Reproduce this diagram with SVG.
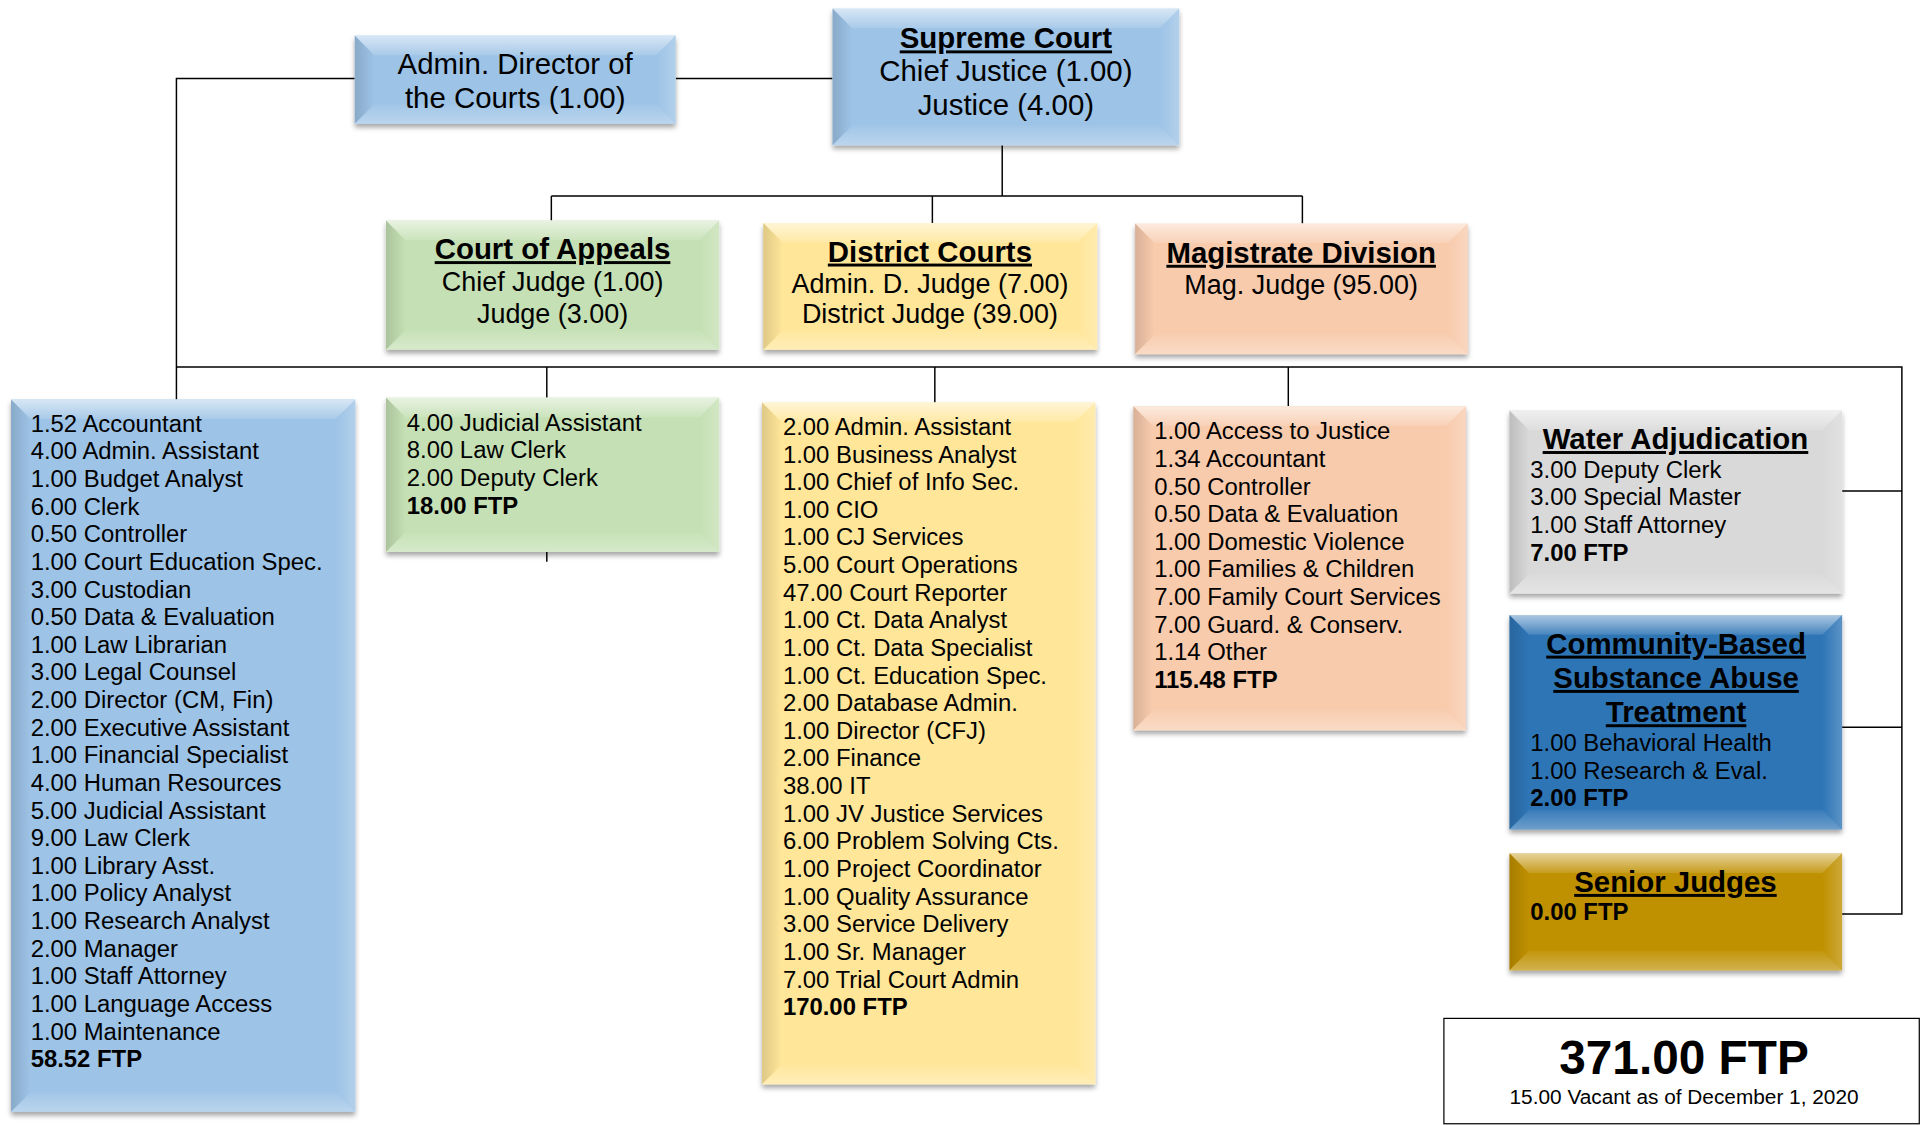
<svg xmlns="http://www.w3.org/2000/svg" width="1921" height="1125" viewBox="0 0 1921 1125">
<defs>
<linearGradient id="gTop" x1="0" y1="0" x2="0" y2="1"><stop offset="0" stop-color="#fff" stop-opacity="0.6"/><stop offset="1" stop-color="#fff" stop-opacity="0.12"/></linearGradient>
<linearGradient id="gBot" x1="0" y1="0" x2="0" y2="1"><stop offset="0" stop-color="#fff" stop-opacity="0.05"/><stop offset="1" stop-color="#fff" stop-opacity="0.3"/></linearGradient>
<linearGradient id="gLeft" x1="0" y1="0" x2="1" y2="0"><stop offset="0" stop-color="#000" stop-opacity="0.13"/><stop offset="1" stop-color="#000" stop-opacity="0"/></linearGradient>
<linearGradient id="gRight" x1="0" y1="0" x2="1" y2="0"><stop offset="0" stop-color="#fff" stop-opacity="0"/><stop offset="1" stop-color="#fff" stop-opacity="0.22"/></linearGradient>
<filter id="sh" x="-10%" y="-10%" width="120%" height="130%"><feDropShadow dx="0" dy="3" stdDeviation="2" flood-color="#000" flood-opacity="0.35"/></filter>
</defs>
<style>
.t{font-family:"Liberation Sans",Arial,sans-serif;fill:#000}
.h{font-size:24px;font-weight:bold;text-decoration:underline;text-anchor:middle}
.s24{font-size:24px;text-anchor:middle}
.s22{font-size:22px;text-anchor:middle}
.l{font-size:19.5px}
.b{font-weight:bold}
.bt{fill:url(#gTop)}.bb{fill:url(#gBot)}.bl{fill:url(#gLeft)}.br{fill:url(#gRight)}
.conn{fill:none;stroke:#000;stroke-width:1.2}
.blue{fill:#9DC3E6}.green{fill:#C5E0B4}.yellow{fill:#FFE699}.peach{fill:#F8CBAD}.gray{fill:#D9D9D9}.dblue{fill:#2E75B6}.gold{fill:#BF9000}
</style>
<g transform="scale(1.2252)">
<g id="connectors">
<path class="conn" d="M289.5,64 H144 V326"/>
<path class="conn" d="M551.5,64 H679.5"/>
<path class="conn" d="M818,118.5 V160 M450,160 H1063 M450,160 V180 M761,160 V182 M1063,160 V182.5"/>
<path class="conn" d="M144,299.5 H1552.3 V746 H1503.5 M1552.3,400.8 H1503.5 M1552.3,593.5 H1503.5"/>
<path class="conn" d="M446.3,299.5 V458.5 M763,299.5 V328.5 M1051.5,299.5 V331.5"/>
</g>

<g id="admin-director">
<rect class="blue" x="289.5" y="29" width="262" height="72" filter="url(#sh)"/>
<path class="bt" d="M289.5,29 H551.5 l-16,16 H305.5 Z"/>
<path class="bb" d="M289.5,101 H551.5 l-16,-16 H305.5 Z"/>
<path class="bl" d="M289.5,29 l16,16 V85 l-16,16 Z"/>
<path class="br" d="M551.5,29 l-16,16 V85 l16,16 Z"/>
<text class="t s24" x="420.5" y="60.5">Admin. Director of</text>
<text class="t s24" x="420.5" y="88">the Courts (1.00)</text>
</g>

<g id="supreme-court">
<rect class="blue" x="679.5" y="7" width="283" height="111.5" filter="url(#sh)"/>
<path class="bt" d="M679.5,7 H962.5 l-16,16 H695.5 Z"/>
<path class="bb" d="M679.5,118.5 H962.5 l-16,-16 H695.5 Z"/>
<path class="bl" d="M679.5,7 l16,16 V102.5 l-16,16 Z"/>
<path class="br" d="M962.5,7 l-16,16 V102.5 l16,16 Z"/>
<text class="t h" x="821" y="39.5">Supreme Court</text>
<text class="t s24" x="821" y="66.5">Chief Justice (1.00)</text>
<text class="t s24" x="821" y="94">Justice (4.00)</text>
</g>

<g id="court-of-appeals">
<rect class="green" x="315" y="180" width="272" height="105.5" filter="url(#sh)"/>
<path class="bt" d="M315,180 H587 l-16,16 H331 Z"/>
<path class="bb" d="M315,285.5 H587 l-16,-16 H331 Z"/>
<path class="bl" d="M315,180 l16,16 V269.5 l-16,16 Z"/>
<path class="br" d="M587,180 l-16,16 V269.5 l16,16 Z"/>
<text class="t h" x="451" y="211.5">Court of Appeals</text>
<text class="t s22" x="451" y="237.5">Chief Judge (1.00)</text>
<text class="t s22" x="451" y="263.5">Judge (3.00)</text>
</g>

<g id="district-courts">
<rect class="yellow" x="623" y="182" width="272.5" height="103.5" filter="url(#sh)"/>
<path class="bt" d="M623,182 H895.5 l-16,16 H639 Z"/>
<path class="bb" d="M623,285.5 H895.5 l-16,-16 H639 Z"/>
<path class="bl" d="M623,182 l16,16 V269.5 l-16,16 Z"/>
<path class="br" d="M895.5,182 l-16,16 V269.5 l16,16 Z"/>
<text class="t h" x="759" y="213.5">District Courts</text>
<text class="t s22" x="759" y="239.5">Admin. D. Judge (7.00)</text>
<text class="t s22" x="759" y="263.5">District Judge (39.00)</text>
</g>

<g id="magistrate-division">
<rect class="peach" x="926.5" y="182.5" width="271.5" height="106.5" filter="url(#sh)"/>
<path class="bt" d="M926.5,182.5 H1198 l-16,16 H942.5 Z"/>
<path class="bb" d="M926.5,289 H1198 l-16,-16 H942.5 Z"/>
<path class="bl" d="M926.5,182.5 l16,16 V273 l-16,16 Z"/>
<path class="br" d="M1198,182.5 l-16,16 V273 l16,16 Z"/>
<text class="t h" x="1062" y="214.5">Magistrate Division</text>
<text class="t s22" x="1062" y="240">Mag. Judge (95.00)</text>
</g>

<g id="admin-staff">
<rect class="blue" x="9" y="326" width="281" height="581.5" filter="url(#sh)"/>
<path class="bt" d="M9,326 H290 l-16,16 H25 Z"/>
<path class="bb" d="M9,907.5 H290 l-16,-16 H25 Z"/>
<path class="bl" d="M9,326 l16,16 V891.5 l-16,16 Z"/>
<path class="br" d="M290,326 l-16,16 V891.5 l16,16 Z"/>
<text class="t l" x="25" y="352.4"><tspan x="25">1.52 Accountant</tspan><tspan x="25" dy="22.55">4.00 Admin. Assistant</tspan><tspan x="25" dy="22.55">1.00 Budget Analyst</tspan><tspan x="25" dy="22.55">6.00 Clerk</tspan><tspan x="25" dy="22.55">0.50 Controller</tspan><tspan x="25" dy="22.55">1.00 Court Education Spec.</tspan><tspan x="25" dy="22.55">3.00 Custodian</tspan><tspan x="25" dy="22.55">0.50 Data &amp; Evaluation</tspan><tspan x="25" dy="22.55">1.00 Law Librarian</tspan><tspan x="25" dy="22.55">3.00 Legal Counsel</tspan><tspan x="25" dy="22.55">2.00 Director (CM, Fin)</tspan><tspan x="25" dy="22.55">2.00 Executive Assistant</tspan><tspan x="25" dy="22.55">1.00 Financial Specialist</tspan><tspan x="25" dy="22.55">4.00 Human Resources</tspan><tspan x="25" dy="22.55">5.00 Judicial Assistant</tspan><tspan x="25" dy="22.55">9.00 Law Clerk</tspan><tspan x="25" dy="22.55">1.00 Library Asst.</tspan><tspan x="25" dy="22.55">1.00 Policy Analyst</tspan><tspan x="25" dy="22.55">1.00 Research Analyst</tspan><tspan x="25" dy="22.55">2.00 Manager</tspan><tspan x="25" dy="22.55">1.00 Staff Attorney</tspan><tspan x="25" dy="22.55">1.00 Language Access</tspan><tspan x="25" dy="22.55">1.00 Maintenance</tspan><tspan x="25" dy="22.55" class="b">58.52 FTP</tspan></text>
</g>

<g id="appeals-staff">
<rect class="green" x="315" y="324.5" width="272" height="126" filter="url(#sh)"/>
<path class="bt" d="M315,324.5 H587 l-16,16 H331 Z"/>
<path class="bb" d="M315,450.5 H587 l-16,-16 H331 Z"/>
<path class="bl" d="M315,324.5 l16,16 V434.5 l-16,16 Z"/>
<path class="br" d="M587,324.5 l-16,16 V434.5 l16,16 Z"/>
<text class="t l" x="332" y="351.5"><tspan x="332">4.00 Judicial Assistant</tspan><tspan x="332" dy="22.55">8.00 Law Clerk</tspan><tspan x="332" dy="22.55">2.00 Deputy Clerk</tspan><tspan x="332" dy="22.55" class="b">18.00 FTP</tspan></text>
</g>

<g id="district-staff">
<rect class="yellow" x="622" y="328.5" width="272" height="556.5" filter="url(#sh)"/>
<path class="bt" d="M622,328.5 H894 l-16,16 H638 Z"/>
<path class="bb" d="M622,885 H894 l-16,-16 H638 Z"/>
<path class="bl" d="M622,328.5 l16,16 V869 l-16,16 Z"/>
<path class="br" d="M894,328.5 l-16,16 V869 l16,16 Z"/>
<text class="t l" x="639" y="355"><tspan x="639">2.00 Admin. Assistant</tspan><tspan x="639" dy="22.55">1.00 Business Analyst</tspan><tspan x="639" dy="22.55">1.00 Chief of Info Sec.</tspan><tspan x="639" dy="22.55">1.00 CIO</tspan><tspan x="639" dy="22.55">1.00 CJ Services</tspan><tspan x="639" dy="22.55">5.00 Court Operations</tspan><tspan x="639" dy="22.55">47.00 Court Reporter</tspan><tspan x="639" dy="22.55">1.00 Ct. Data Analyst</tspan><tspan x="639" dy="22.55">1.00 Ct. Data Specialist</tspan><tspan x="639" dy="22.55">1.00 Ct. Education Spec.</tspan><tspan x="639" dy="22.55">2.00 Database Admin.</tspan><tspan x="639" dy="22.55">1.00 Director (CFJ)</tspan><tspan x="639" dy="22.55">2.00 Finance</tspan><tspan x="639" dy="22.55">38.00 IT</tspan><tspan x="639" dy="22.55">1.00 JV Justice Services</tspan><tspan x="639" dy="22.55">6.00 Problem Solving Cts.</tspan><tspan x="639" dy="22.55">1.00 Project Coordinator</tspan><tspan x="639" dy="22.55">1.00 Quality Assurance</tspan><tspan x="639" dy="22.55">3.00 Service Delivery</tspan><tspan x="639" dy="22.55">1.00 Sr. Manager</tspan><tspan x="639" dy="22.55">7.00 Trial Court Admin</tspan><tspan x="639" dy="22.55" class="b">170.00 FTP</tspan></text>
</g>

<g id="magistrate-staff">
<rect class="peach" x="925" y="331.5" width="271.5" height="264.5" filter="url(#sh)"/>
<path class="bt" d="M925,331.5 H1196.5 l-16,16 H941 Z"/>
<path class="bb" d="M925,596 H1196.5 l-16,-16 H941 Z"/>
<path class="bl" d="M925,331.5 l16,16 V580 l-16,16 Z"/>
<path class="br" d="M1196.5,331.5 l-16,16 V580 l16,16 Z"/>
<text class="t l" x="942" y="358.6"><tspan x="942">1.00 Access to Justice</tspan><tspan x="942" dy="22.55">1.34 Accountant</tspan><tspan x="942" dy="22.55">0.50 Controller</tspan><tspan x="942" dy="22.55">0.50 Data &amp; Evaluation</tspan><tspan x="942" dy="22.55">1.00 Domestic Violence</tspan><tspan x="942" dy="22.55">1.00 Families &amp; Children</tspan><tspan x="942" dy="22.55">7.00 Family Court Services</tspan><tspan x="942" dy="22.55">7.00 Guard. &amp; Conserv.</tspan><tspan x="942" dy="22.55">1.14 Other</tspan><tspan x="942" dy="22.55" class="b">115.48 FTP</tspan></text>
</g>

<g id="water-adjudication">
<rect class="gray" x="1232" y="335" width="271.5" height="149.5" filter="url(#sh)"/>
<path class="bt" d="M1232,335 H1503.5 l-16,16 H1248 Z"/>
<path class="bb" d="M1232,484.5 H1503.5 l-16,-16 H1248 Z"/>
<path class="bl" d="M1232,335 l16,16 V468.5 l-16,16 Z"/>
<path class="br" d="M1503.5,335 l-16,16 V468.5 l16,16 Z"/>
<text class="t h" x="1367.5" y="366.5">Water Adjudication</text>
<text class="t l" x="1249" y="390"><tspan x="1249">3.00 Deputy Clerk</tspan><tspan x="1249" dy="22.5">3.00 Special Master</tspan><tspan x="1249" dy="22.5">1.00 Staff Attorney</tspan><tspan x="1249" dy="22.5" class="b">7.00 FTP</tspan></text>
</g>

<g id="community-based-treatment">
<rect class="dblue" x="1232" y="502" width="271.5" height="175" filter="url(#sh)"/>
<path class="bt" d="M1232,502 H1503.5 l-16,16 H1248 Z"/>
<path class="bb" d="M1232,677 H1503.5 l-16,-16 H1248 Z"/>
<path class="bl" d="M1232,502 l16,16 V661 l-16,16 Z"/>
<path class="br" d="M1503.5,502 l-16,16 V661 l16,16 Z"/>
<text class="t h" x="1368" y="533.5">Community-Based</text>
<text class="t h" x="1368" y="561.5">Substance Abuse</text>
<text class="t h" x="1368" y="589.5">Treatment</text>
<text class="t l" x="1249" y="613"><tspan x="1249">1.00 Behavioral Health</tspan><tspan x="1249" dy="22.5">1.00 Research &amp; Eval.</tspan><tspan x="1249" dy="22.5" class="b">2.00 FTP</tspan></text>
</g>

<g id="senior-judges">
<rect class="gold" x="1232" y="696.5" width="271.5" height="95.5" filter="url(#sh)"/>
<path class="bt" d="M1232,696.5 H1503.5 l-16,16 H1248 Z"/>
<path class="bb" d="M1232,792 H1503.5 l-16,-16 H1248 Z"/>
<path class="bl" d="M1232,696.5 l16,16 V776 l-16,16 Z"/>
<path class="br" d="M1503.5,696.5 l-16,16 V776 l16,16 Z"/>
<text class="t h" x="1367.5" y="728">Senior Judges</text>
<text class="t l b" x="1249" y="751">0.00 FTP</text>
</g>

<g id="total">
<rect x="1178.5" y="831.2" width="388" height="86" fill="#fff" stroke="#000" stroke-width="1"/>
<text class="t" x="1374.5" y="876.5" font-size="39" font-weight="bold" text-anchor="middle">371.00 FTP</text>
<text class="t" x="1374.5" y="901" font-size="17" text-anchor="middle">15.00 Vacant as of December 1, 2020</text>
</g>
</g>
</svg>
